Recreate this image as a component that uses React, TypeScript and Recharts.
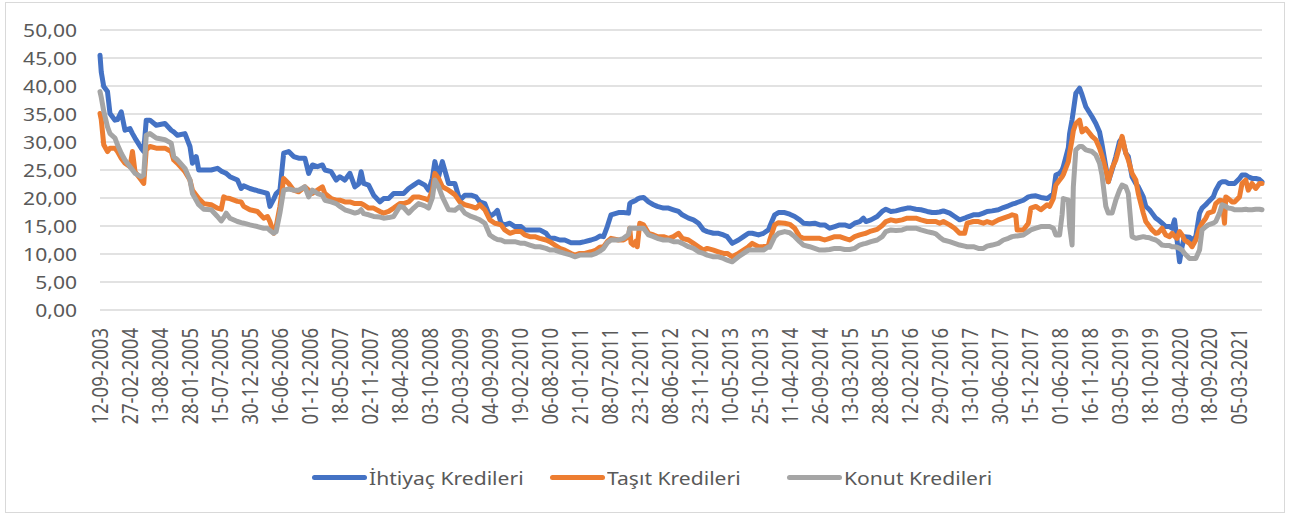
import React from "react";
import { LineChart, Line, XAxis, YAxis, CartesianGrid } from "recharts";

// weekly rates (%), week index counted from 12-09-2003
const weeks = [
  0, 1, 3, 6, 8, 12, 14, 17, 20, 24, 26, 28, 33, 35, 37, 40, 45, 52, 57, 59,
  62, 68, 72, 74, 77, 79, 83, 89, 94, 97, 99, 101, 104, 110, 113, 115, 120, 126, 131,
  134, 136, 139, 141, 144, 147, 151, 155, 159, 164, 167, 170, 174, 178, 180, 185, 189, 192, 196, 200,
  204, 207, 209, 211, 215, 219, 224, 227, 231, 235, 240, 243, 247, 251, 255, 260, 263, 266,
  268, 271, 274, 279, 284, 288, 292, 297, 301, 304, 308, 312, 316, 318, 321, 324, 328, 332, 337, 340,
  344, 348, 352, 357, 360, 364, 368, 372, 377, 380, 384, 388, 393, 397, 400,
  403, 406, 409, 415, 419, 423, 424, 425, 427, 429, 430, 432, 435, 439, 443, 446, 451, 455, 459, 463,
  466, 471, 475, 479, 483, 486, 491, 495, 499, 502, 506, 511, 515, 519, 522, 527, 531, 535,
  536, 540, 543, 548, 552, 556, 560, 563, 568, 572, 576, 580, 584, 588, 592, 596, 600, 604, 608, 611,
  613, 617, 622, 626, 629, 633, 637, 642, 646, 649, 653, 657, 662, 666, 669,
  672, 675, 680, 684, 688, 692, 694, 699, 703, 707, 710, 714, 719, 723, 727, 730, 733, 734, 739, 743,
  745, 749, 753, 758, 760, 763, 765, 768, 770, 771, 775, 776, 778, 779, 781, 784, 786, 789, 794, 797, 800, 802,
  805, 807, 810, 813, 816, 818, 821, 823, 826, 829, 831, 835, 837, 840, 842, 845, 847, 850, 853, 856,
  858, 860, 862, 864, 866, 868, 872, 874, 877, 880, 882, 885, 887, 891, 893, 896, 898, 900, 901, 903,
  906, 908, 912, 914, 917, 919, 922, 925, 928, 930,
];

const ihtiyac = [
  45.5, 42.5, 39.9, 39.0, 35.1, 33.9, 34.0, 35.4, 32.1, 32.4, 31.5, 30.7, 28.9, 28.3, 33.9, 33.9, 33.0, 33.3, 32.1, 31.8,
  31.2, 31.5, 29.2, 26.2, 27.4, 25.0, 25.0, 25.0, 25.3, 24.8, 24.6, 24.4, 23.8, 23.2, 21.7, 22.2, 21.7, 21.3, 21.0,
  20.8, 18.5, 19.8, 20.8, 21.4, 28.0, 28.3, 27.4, 27.1, 27.1, 24.4, 25.9, 25.6, 25.9, 25.0, 24.7, 23.2, 23.8, 23.2, 24.4,
  22.0, 22.5, 24.7, 22.6, 22.3, 20.5, 19.3, 19.9, 19.9, 20.8, 20.8, 20.8, 21.7, 22.3, 22.9, 22.3, 21.4, 23.5,
  26.5, 23.8, 26.5, 22.6, 22.6, 19.6, 20.5, 20.5, 20.2, 19.3, 19.0, 16.7, 17.3, 17.8, 15.5, 15.2, 15.5, 14.9, 14.9, 14.3,
  14.3, 14.3, 14.3, 13.7, 12.8, 12.8, 12.5, 12.5, 12.0, 12.0, 12.0, 12.2, 12.5, 12.8, 13.2,
  13.1, 14.9, 17.0, 17.4, 17.4, 17.3, 19.0, 19.2, 19.4, 19.6, 19.8, 20.0, 20.1, 19.3, 18.8, 18.5, 18.2, 18.2, 17.9, 17.6,
  17.0, 16.4, 16.1, 15.5, 14.3, 14.0, 13.7, 13.7, 13.4, 13.1, 11.9, 12.5, 13.1, 13.7, 13.7, 13.4, 13.7, 14.3,
  14.9, 17.0, 17.4, 17.4, 17.1, 16.7, 16.1, 15.5, 15.4, 15.5, 15.2, 15.2, 14.6, 14.9, 15.2, 15.2, 14.9, 15.5, 15.8, 16.4,
  15.8, 16.1, 16.7, 17.6, 18.0, 17.6, 17.7, 18.0, 18.2, 18.2, 18.0, 17.9, 17.6, 17.4, 17.4,
  17.5, 17.7, 17.3, 16.7, 16.1, 16.4, 16.6, 17.0, 17.0, 17.3, 17.6, 17.7, 17.9, 18.3, 18.6, 18.9, 19.1, 19.2, 19.6, 20.2,
  20.3, 20.4, 20.1, 19.9, 20.2, 20.8, 24.1, 24.4, 25.0, 25.6, 29.0, 31.5, 34.0, 35.5, 38.7, 39.6, 38.4, 36.3, 34.5, 33.3, 31.8, 29.5,
  25.6, 22.9, 25.0, 27.4, 30.1, 30.7, 28.0, 27.4, 23.8, 22.6, 22.0, 20.2, 18.5, 17.9, 17.3, 16.4, 16.1, 15.5, 14.9, 14.9,
  14.6, 16.1, 12.5, 8.6, 11.3, 13.1, 13.0, 12.5, 13.1, 17.3, 18.2, 18.8, 19.3, 20.2, 21.4, 22.6, 22.9, 22.9, 22.9, 22.6,
  22.6, 22.6, 23.5, 24.1, 24.1, 23.8, 23.5, 23.5, 23.3, 22.9,
];

const tasit = [
  35.1, 34.0, 29.5, 28.3, 28.9, 28.9, 28.3, 27.1, 26.2, 25.6, 28.3, 24.7, 23.2, 22.6, 28.6, 29.2, 28.9, 28.9, 28.3, 26.8,
  26.2, 24.7, 23.2, 21.4, 20.5, 19.9, 19.0, 18.8, 18.2, 18.0, 20.2, 20.0, 19.9, 19.4, 19.3, 18.5, 17.9, 17.6, 16.4,
  16.7, 15.8, 13.7, 14.9, 18.5, 23.5, 22.6, 21.4, 21.1, 22.0, 21.4, 20.8, 21.4, 22.0, 20.8, 19.9, 19.6, 19.6, 19.3, 19.3,
  19.0, 19.0, 19.0, 18.8, 18.2, 18.2, 17.6, 17.3, 17.6, 18.2, 19.0, 19.0, 19.3, 20.2, 20.2, 19.9, 19.6, 21.4,
  24.4, 23.5, 22.0, 21.4, 20.6, 19.3, 18.8, 18.5, 18.2, 18.8, 17.9, 16.1, 15.5, 15.4, 15.2, 14.3, 13.7, 14.0, 14.0, 13.4,
  13.1, 13.1, 12.8, 12.5, 12.2, 11.6, 11.0, 10.7, 10.1, 9.8, 10.1, 10.1, 10.4, 10.7, 11.2,
  11.3, 12.2, 12.8, 12.5, 12.5, 13.1, 14.6, 12.0, 11.6, 12.3, 11.3, 15.5, 15.2, 13.7, 13.4, 13.1, 13.1, 12.8, 13.1, 13.7,
  12.8, 12.5, 11.9, 11.3, 10.7, 11.0, 10.7, 10.4, 10.1, 10.1, 9.5, 10.1, 10.7, 11.3, 11.9, 11.3, 11.3, 11.6,
  12.5, 15.2, 15.6, 15.5, 15.3, 14.6, 13.1, 12.8, 12.8, 12.8, 12.8, 12.5, 12.8, 13.1, 13.1, 12.8, 12.5, 13.1, 13.4, 13.6,
  13.7, 14.1, 14.4, 15.1, 15.8, 16.1, 15.9, 16.1, 16.4, 16.4, 16.4, 16.1, 15.8, 15.8, 15.8,
  15.5, 15.8, 15.2, 14.6, 13.7, 13.7, 15.5, 15.8, 15.8, 15.5, 15.8, 15.5, 16.1, 16.4, 16.7, 17.0, 16.8, 14.3, 14.3, 15.5,
  18.2, 18.5, 17.9, 18.8, 18.5, 19.9, 22.3, 23.2, 23.8, 24.2, 26.5, 28.0, 30.5, 32.0, 33.3, 33.9, 31.8, 32.4, 31.0, 30.4, 28.9, 27.5,
  25.0, 22.9, 25.3, 26.8, 29.2, 31.0, 28.0, 26.8, 24.4, 23.2, 20.8, 17.3, 15.8, 14.9, 14.3, 13.7, 13.8, 14.6, 13.4, 13.1,
  13.7, 13.2, 12.8, 14.0, 13.4, 12.5, 11.9, 11.3, 12.5, 14.6, 15.5, 16.4, 17.3, 17.6, 19.0, 19.6, 19.5, 15.5, 20.2, 19.9,
  19.3, 19.3, 20.2, 22.6, 23.2, 21.4, 22.6, 21.7, 22.6, 22.6,
];

const konut = [
  39.0, 38.0, 35.5, 32.7, 31.5, 30.7, 29.5, 28.0, 26.8, 25.6, 25.0, 24.4, 23.8, 24.1, 31.2, 31.5, 30.7, 30.4, 29.8, 27.4,
  26.8, 25.3, 23.2, 20.8, 19.6, 18.8, 18.0, 17.9, 16.7, 15.9, 16.5, 17.3, 16.4, 15.8, 15.6, 15.5, 15.2, 14.9, 14.6,
  14.6, 14.2, 13.7, 14.0, 17.3, 21.4, 21.6, 21.4, 21.4, 22.0, 20.2, 21.4, 20.8, 20.5, 19.6, 19.3, 19.0, 18.5, 17.9, 17.6,
  17.3, 17.5, 17.9, 17.2, 17.0, 16.7, 16.6, 16.4, 16.5, 16.7, 18.5, 18.3, 17.3, 18.2, 19.0, 18.6, 18.2, 20.0,
  23.2, 22.0, 20.2, 17.9, 17.8, 18.5, 17.3, 16.7, 16.4, 16.1, 15.5, 13.4, 12.8, 12.6, 12.5, 12.2, 12.2, 12.2, 11.9, 11.9,
  11.6, 11.3, 11.3, 11.0, 10.7, 10.7, 10.4, 10.1, 9.8, 9.5, 9.8, 9.8, 9.8, 10.1, 10.5,
  11.0, 12.0, 12.5, 12.5, 12.8, 13.5, 14.6, 14.6, 14.6, 14.6, 14.6, 14.6, 14.6, 13.4, 13.1, 12.8, 12.5, 12.5, 12.2, 12.2,
  11.9, 11.3, 11.0, 10.4, 10.1, 9.8, 9.5, 9.5, 9.2, 8.9, 8.6, 9.5, 10.1, 10.7, 10.7, 10.7, 10.7, 11.3,
  11.2, 13.1, 13.7, 14.0, 13.8, 13.1, 12.2, 11.6, 11.3, 11.0, 10.7, 10.7, 10.8, 11.0, 11.0, 10.8, 10.8, 11.0, 11.6, 11.8,
  11.9, 12.2, 12.5, 13.1, 14.0, 14.3, 14.2, 14.3, 14.6, 14.6, 14.6, 14.3, 14.0, 13.8, 13.6,
  13.0, 12.5, 12.2, 11.9, 11.6, 11.4, 11.3, 11.3, 11.0, 11.0, 11.4, 11.6, 11.9, 12.5, 12.8, 13.1, 13.2, 13.2, 13.4, 14.0,
  14.3, 14.6, 14.9, 14.9, 14.9, 14.6, 13.4, 13.4, 17.0, 19.9, 19.6, 15.0, 11.6, 22.0, 28.6, 29.2, 29.2, 28.6, 28.3, 27.7, 26.2, 24.0,
  18.5, 17.3, 17.3, 19.6, 21.4, 22.3, 22.0, 20.8, 13.1, 12.8, 12.9, 13.1, 13.0, 12.9, 12.7, 12.5, 12.2, 11.6, 11.5, 11.5,
  11.3, 11.3, 11.2, 11.0, 10.7, 10.1, 9.2, 9.2, 9.2, 10.7, 14.3, 14.9, 15.2, 15.5, 15.8, 17.3, 18.8, 18.6, 18.5, 18.2,
  18.1, 17.9, 17.9, 17.9, 18.0, 17.9, 17.9, 18.0, 18.0, 17.9,
];

const tickLabels = [
  "12-09-2003", "27-02-2004", "13-08-2004", "28-01-2005", "15-07-2005", "30-12-2005",
  "16-06-2006", "01-12-2006", "18-05-2007", "02-11-2007", "18-04-2008", "03-10-2008",
  "20-03-2009", "04-09-2009", "19-02-2010", "06-08-2010", "21-01-2011", "08-07-2011",
  "23-12-2011", "08-06-2012", "23-11-2012", "10-05-2013", "25-10-2013", "11-04-2014",
  "26-09-2014", "13-03-2015", "28-08-2015", "12-02-2016", "29-07-2016", "13-01-2017",
  "30-06-2017", "15-12-2017", "01-06-2018", "16-11-2018", "03-05-2019", "18-10-2019",
  "03-04-2020", "18-09-2020", "05-03-2021",
];
const tickWeeks = tickLabels.map((_, i) => i * 24);
const yTicks = [0, 5, 10, 15, 20, 25, 30, 35, 40, 45, 50];

const series = [
  { key: "ihtiyac", name: "İhtiyaç Kredileri", color: "#4472C4" },
  { key: "tasit", name: "Taşıt Kredileri", color: "#ED7D31" },
  { key: "konut", name: "Konut Kredileri", color: "#A5A5A5" },
];

const data = weeks.map((w, i) => ({ w, ihtiyac: ihtiyac[i], tasit: tasit[i], konut: konut[i] }));

const FONT = '"Noto Sans", sans-serif';
const TEXT = "#595959";
const STRETCH = 1.14; // the source picture is a bit wider than tall

function XTick({ x, y, payload }: any) {
  const label = tickLabels[Math.round(payload.value / 24)];
  return (
    <text
      transform={`translate(${x},${y + 18}) scale(${STRETCH},1) rotate(-90)`}
      textAnchor="end"
      dominantBaseline="central"
      fontFamily={FONT}
      fontSize={18.5}
      fill={TEXT}
    >
      {label}
    </text>
  );
}

function YTick({ x, y, payload }: any) {
  return (
    <text
      transform={`translate(${x - 23},${y}) scale(${STRETCH},1)`}
      textAnchor="end"
      dominantBaseline="central"
      fontFamily={FONT}
      fontSize={18.5}
      fill={TEXT}
    >
      {payload.value.toFixed(2).replace(".", ",")}
    </text>
  );
}

const legendLeft = [312, 550, 787];

export default function App() {
  return (
    <div style={{ position: "absolute", left: 0, top: 0, width: 1290, height: 515, background: "#fff", overflow: "hidden" }}>
      <div
        style={{
          position: "absolute", left: 5, top: 2, width: 1280, height: 511,
          border: "1px solid #d9d9d9", boxSizing: "border-box",
        }}
      />
      <LineChart width={1290} height={515} data={data} margin={{ top: 30, right: 28, left: 0, bottom: 100 }}>
        <CartesianGrid vertical={false} stroke="#d9d9d9" strokeWidth={1.6} />
        <XAxis
          dataKey="w"
          type="number"
          domain={[0, 930]}
          ticks={tickWeeks}
          interval={0}
          height={105}
          axisLine={false}
          tickLine={false}
          tickSize={0}
          tickMargin={0}
          tick={<XTick />}
        />
        <YAxis
          domain={[0, 50]}
          ticks={yTicks}
          width={100}
          axisLine={false}
          tickLine={false}
          tickSize={0}
          tickMargin={0}
          tick={<YTick />}
        />
        {series.map((s) => (
          <Line
            key={s.key}
            type="linear"
            dataKey={s.key}
            name={s.name}
            stroke={s.color}
            strokeWidth={5}
            strokeLinejoin="round"
            strokeLinecap="round"
            dot={false}
            activeDot={false}
            isAnimationActive={false}
          />
        ))}
      </LineChart>
      {series.map((s, i) => (
        <div
          key={s.key}
          style={{ position: "absolute", left: legendLeft[i], top: 463, height: 28, display: "flex", alignItems: "center" }}
        >
          <span style={{ display: "inline-block", width: 55, height: 5, background: s.color, borderRadius: 2.5 }} />
          <span
            style={{
              display: "inline-block", marginLeft: 2, fontFamily: FONT, fontSize: 18.5, color: TEXT,
              transform: `scaleX(${STRETCH})`, transformOrigin: "left center", whiteSpace: "nowrap",
            }}
          >
            {s.name}
          </span>
        </div>
      ))}
    </div>
  );
}
